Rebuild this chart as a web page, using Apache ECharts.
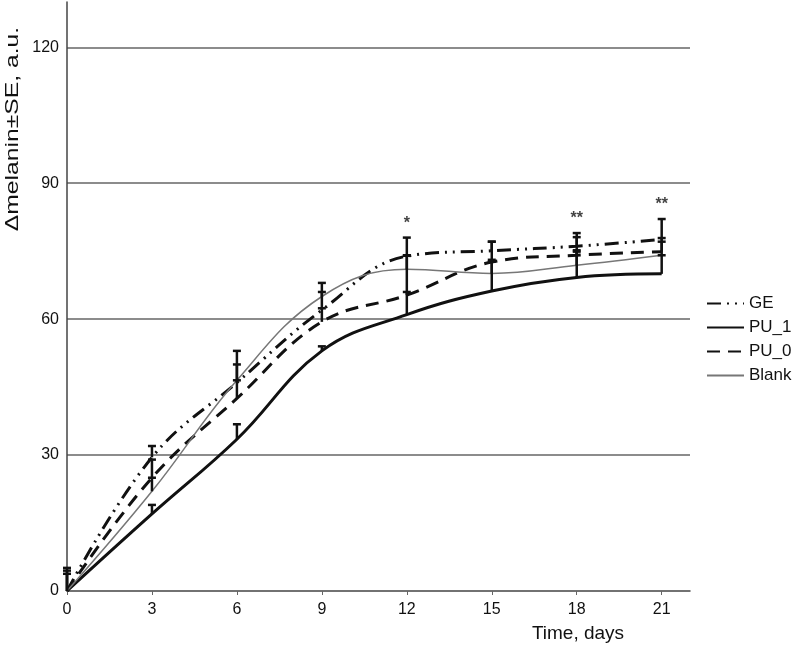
<!DOCTYPE html>
<html lang="en">
  <head>
    <meta charset="UTF-8" />
    <title>Melanin over time</title>
    <script src="https://cdn.jsdelivr.net/npm/echarts@6/dist/echarts.min.js"></script>
    <style>
      * { margin: 0; padding: 0; box-sizing: border-box; }
      body { background: #fff; }
      #chart { width: 796px; height: 648px; }
    </style>
  </head>
  <body>
    <div id="chart"></div>
    <script>
      /* ---------- data ---------- */
      const days = [0, 3, 6, 9, 12, 15, 18, 21];
      const xTicks = [0, 3, 6, 9, 12, 15, 18, 21];

      const geMean = [0, 29.5, 46, 62, 73.9, 75.1, 76.1, 77.6];
      const geSE = [5.1, 2.5, 4, 4, 4.1, 2, 2.9, 4.5];
      const pu1Mean = [0, 17, 33.5, 53, 61, 66.2, 69.2, 70];
      const pu1SE = [3.8, 2, 3.3, 1, 5, 6.5, 6, 4.1];
      const pu0Mean = [0, 25, 42.5, 59.4, 65.3, 72.6, 74.1, 74.9];
      const pu0SE = [4.5, 4, 4, 3, 8.8, 4.5, 4, 3];
      const blankMean = [0, 22, 46.5, 65, 71, 70.1, 71.9, 74.1];
      const blankSE = [0, 3, 6.5, 3, 3, 3, 3, 3];

      const starDays = [12, 18, 21];
      const starText = ["*", "**", "**"];

      /* ---------- helpers ---------- */
      const FONT = '"Liberation Sans", Arial, sans-serif';
      const INK = "#111";
      const pairs = (ys) => days.map((d, i) => [d, ys[i]]);

      const groups = [
        [geMean, geSE],
        [pu1Mean, pu1SE],
        [pu0Mean, pu0SE],
        [blankMean, blankSE],
      ];
      const errData = [];
      groups.forEach(([m, s]) => {
        days.forEach((d, i) => {
          if (s[i] > 0) errData.push([d, m[i], m[i] + s[i]]);
        });
      });
      const starData = starDays.map((d, k) => {
        const i = days.indexOf(d);
        const top = Math.max(...groups.map(([m, s]) => m[i] + s[i]));
        return { value: [d, top], label: { formatter: starText[k] } };
      });

      const chart = echarts.init(document.getElementById("chart"), null, {
        renderer: "canvas",
      });

      const lineBase = { type: "line", smooth: 0.4, symbol: "none", z: 3 };

      chart.setOption({
        animation: false,
        backgroundColor: "#fff",
        textStyle: { fontFamily: FONT },
        grid: {
          left: 67,
          right: 106,
          top: 2,
          bottom: 57,
          outerBoundsMode: "none",
        },
        legend: {
          data: ["GE", "PU_1", "PU_0", "Blank"],
          orient: "vertical",
          left: 706,
          top: 295,
          padding: 0,
          itemWidth: 37,
          itemHeight: 14,
          itemGap: 7,
          // hide the default circle symbol, keep only the line
          itemStyle: { color: "transparent", borderWidth: 0, opacity: 0 },
          textStyle: { fontSize: 17, color: INK, fontFamily: FONT },
        },
        xAxis: {
          type: "value",
          min: 0,
          max: 22,
          interval: 3,
          axisLine: { lineStyle: { color: "#444", width: 1.5 } },
          axisTick: {
            show: true,
            length: 4,
            customValues: xTicks,
            lineStyle: { color: "#666", width: 1 },
          },
          axisLabel: {
            customValues: xTicks,
            margin: 11,
            fontSize: 16,
            color: INK,
            fontFamily: FONT,
          },
          splitLine: { show: false },
        },
        yAxis: {
          type: "value",
          min: 0,
          max: 130,
          interval: 30,
          axisLine: { show: true, lineStyle: { color: "#444", width: 1.5 } },
          axisTick: { show: false },
          axisLabel: {
            showMaxLabel: false,
            margin: 8,
            fontSize: 16,
            color: INK,
            fontFamily: FONT,
          },
          splitLine: {
            show: true,
            showMinLine: false,
            showMaxLine: false,
            lineStyle: { color: "#666", width: 1.5 },
          },
        },
        graphic: [
          {
            type: "text",
            x: 13,
            y: 129,
            rotation: Math.PI / 2,
            scaleX: 1.3,
            style: {
              text: "Δmelanin±SE, a.u.",
              font: "19px " + FONT,
              fill: INK,
              align: "center",
              verticalAlign: "middle",
            },
          },
          {
            type: "text",
            x: 578,
            y: 634,
            style: {
              text: "Time, days",
              font: "19px " + FONT,
              fill: INK,
              align: "center",
              verticalAlign: "middle",
            },
          },
        ],
        series: [
          {
            ...lineBase,
            name: "GE",
            data: pairs(geMean),
            lineStyle: { color: INK, width: 3, type: [14, 6, 2, 6, 2, 6] },
            itemStyle: { color: INK },
          },
          {
            ...lineBase,
            name: "PU_1",
            data: pairs(pu1Mean),
            lineStyle: { color: INK, width: 3, type: "solid" },
            itemStyle: { color: INK },
          },
          {
            ...lineBase,
            name: "PU_0",
            data: pairs(pu0Mean),
            lineStyle: { color: INK, width: 3, type: [13, 8] },
            itemStyle: { color: INK },
          },
          {
            ...lineBase,
            name: "Blank",
            data: pairs(blankMean),
            lineStyle: { color: "#777", width: 1.5, type: "solid" },
            itemStyle: { color: "#777" },
          },
          {
            name: "SE",
            type: "custom",
            z: 4,
            silent: true,
            data: errData,
            renderItem: (params, api) => {
              const x = api.value(0);
              const p0 = api.coord([x, api.value(1)]);
              const p1 = api.coord([x, api.value(2)]);
              const w = 4;
              const st = { stroke: INK, lineWidth: 2.5 };
              return {
                type: "group",
                children: [
                  { type: "line", shape: { x1: p0[0], y1: p0[1], x2: p1[0], y2: p1[1] }, style: st },
                  { type: "line", shape: { x1: p1[0] - w, y1: p1[1], x2: p1[0] + w, y2: p1[1] }, style: st },
                ],
              };
            },
          },
          {
            name: "stars",
            type: "scatter",
            symbolSize: 0,
            silent: true,
            data: starData,
            label: {
              show: true,
              position: "top",
              distance: 6,
              fontSize: 16,
              fontWeight: "bold",
              color: INK,
              fontFamily: FONT,
            },
          },
        ],
      });
    </script>
  </body>
</html>
